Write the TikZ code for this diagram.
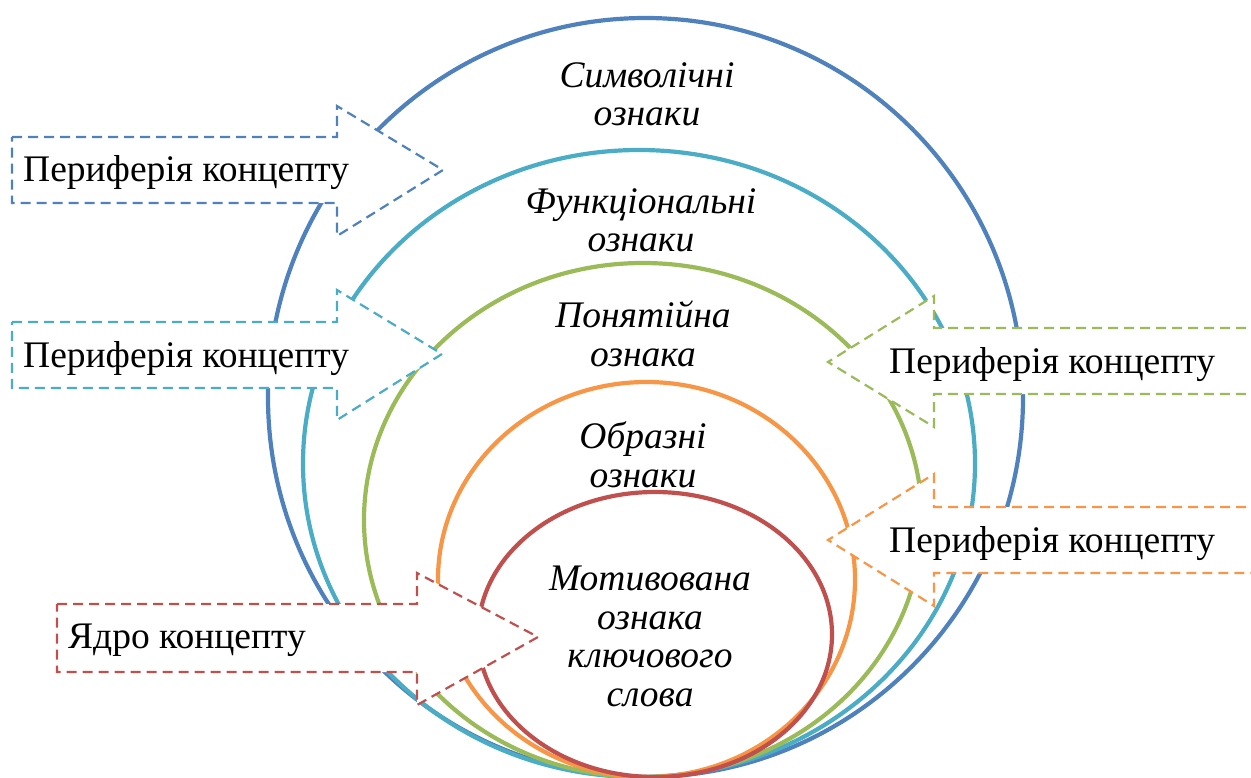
\documentclass[tikz,border=0pt]{standalone}
\usepackage{fontspec}
\setmainfont{Liberation Serif}
\definecolor{ringBlue}{HTML}{4F81BD}
\definecolor{ringTeal}{HTML}{4BACC6}
\definecolor{ringGreen}{HTML}{9BBB59}
\definecolor{ringOrange}{HTML}{F79646}
\definecolor{ringRed}{HTML}{C0504D}
\usepackage{tikz}

\begin{document}
\begin{tikzpicture}[
    x=1pt, y=-1pt,
    ring/.style={line width=4.2pt},
    periarrow/.style={fill=white, line width=2.2pt, dash pattern=on 10pt off 6pt},
    feature/.style={font=\fontsize{37.5}{38.5}\selectfont\itshape, align=center,
                    anchor=base, inner sep=0pt},
    plabel/.style={font=\fontsize{37.5}{40}\selectfont, anchor=base west, inner sep=0pt}
  ]
    \clip (0,0) rectangle (1251,778);

    % Rings
    \draw[ring, ringBlue]   (645.5,397.5) ellipse [x radius=377.5, y radius=379.5];
    \draw[ring, ringTeal]   (639,463.5)   ellipse [x radius=336, y radius=313.5];
    \draw[ring, ringGreen]  (643,520)     ellipse [x radius=279, y radius=257];
    \draw[ring, ringOrange] (646.5,579.5) ellipse [x radius=208.5, y radius=197.5];
    \draw[ring, ringRed]    (655,634.5)   ellipse [x radius=177, y radius=142.5];

    % Features (anchored at the last line)
    \node[feature] (symb) at (647,126) {Символічні\\ознаки};
    \node[feature] (func) at (641,252) {Функціональні\\ознаки};
    \node[feature] (conc) at (643,366) {Понятійна\\ознака};
    \node[feature] (imag) at (643,487) {Образні\\ознаки};
    \node[feature] (motv) at (650,706) {Мотивована\\ознака\\ключового\\слова};

    % Periphery arrows
    \draw[periarrow, draw=ringBlue] (12,137) -- (337,137) -- (337,106) -- (443,170)
      -- (337,236) -- (337,203) -- (12,203) -- cycle;
    \node[plabel] (periBlue) at (23,182) {Периферія концепту};

    \draw[periarrow, draw=ringTeal] (12,322) -- (337,322) -- (337,290) -- (442,354)
      -- (337,420) -- (337,388) -- (12,388) -- cycle;
    \node[plabel] (periTeal) at (23,367) {Периферія концепту};

    \draw[periarrow, draw=ringGreen] (1262,328) -- (934,328) -- (934,296) -- (828,362)
      -- (934,427) -- (934,394) -- (1262,394);
    \node[plabel] (periGreen) at (889,373) {Периферія концепту};

    \draw[periarrow, draw=ringOrange] (1262,507) -- (934,507) -- (934,474) -- (828,540)
      -- (934,606) -- (934,573) -- (1262,573);
    \node[plabel] (periOrange) at (889,552) {Периферія концепту};

    % Core arrow
    \draw[periarrow, draw=ringRed] (57,604) -- (417,604) -- (417,573) -- (538,637)
      -- (417,705) -- (417,672) -- (57,672) -- cycle;
    \node[plabel] (core) at (68,648) {Ядро концепту};
\end{tikzpicture}
\end{document}
